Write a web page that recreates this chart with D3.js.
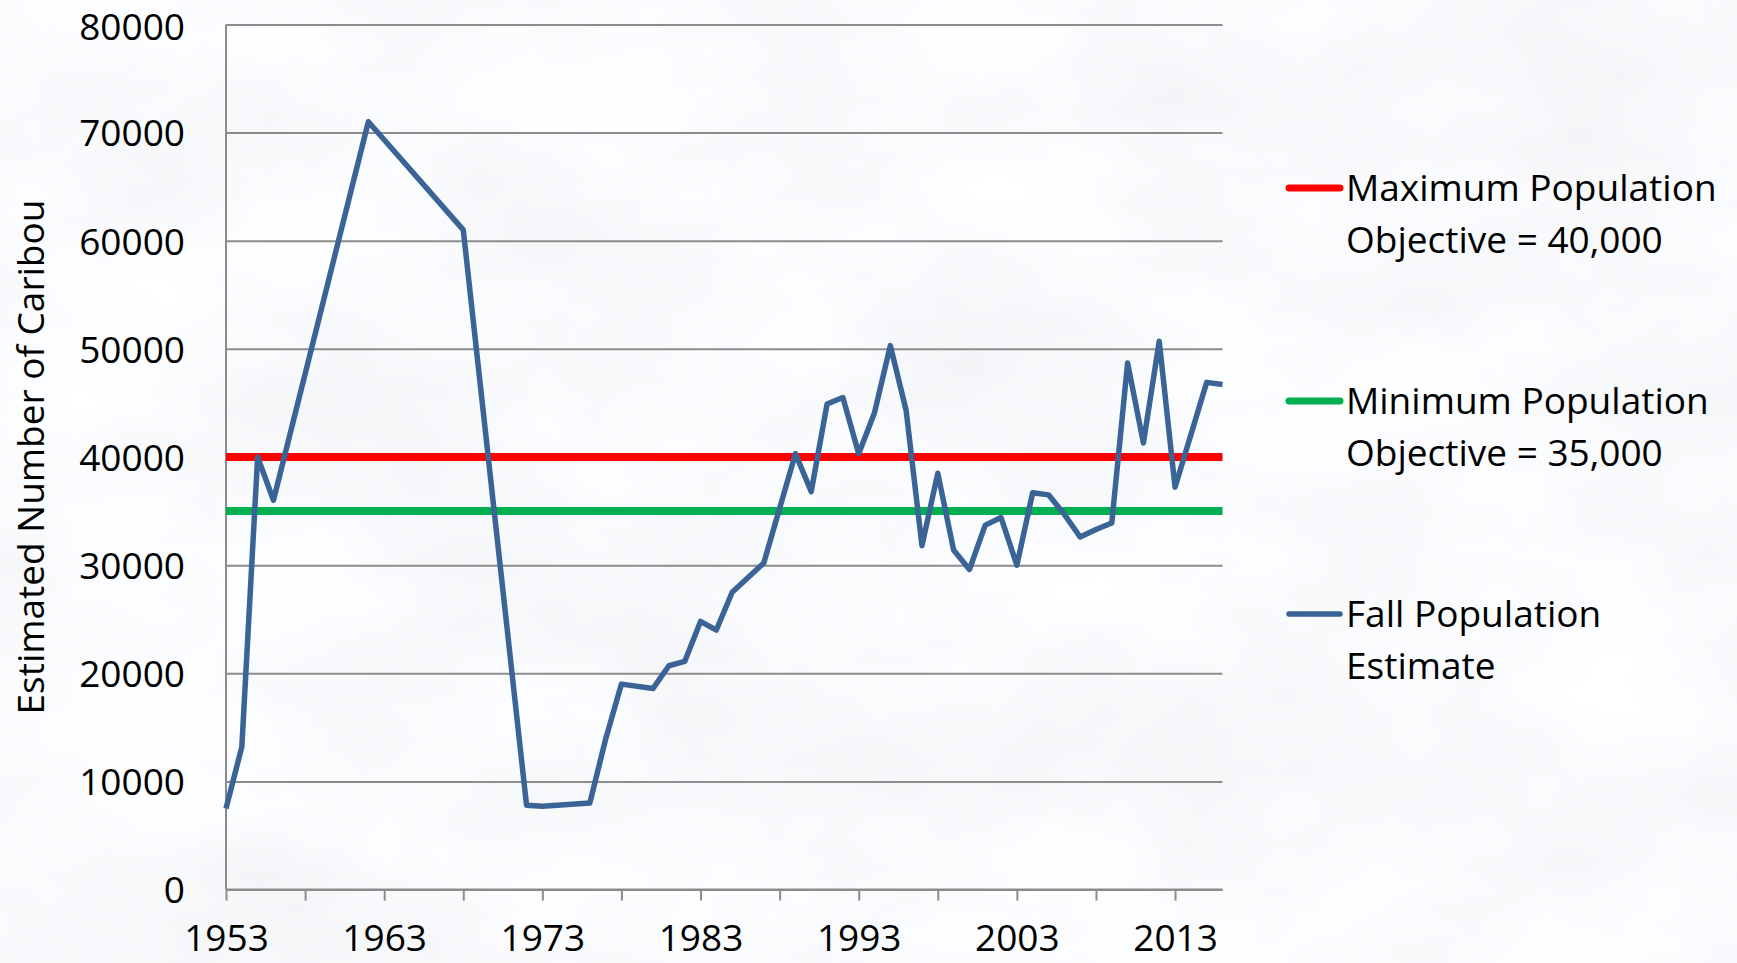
<!DOCTYPE html>
<html>
<head>
<meta charset="utf-8">
<script src="https://cdn.jsdelivr.net/npm/d3@7"></script>
<style>
  body { margin: 0; background: #eef1f4; }
  text { font-family: "Open Sans", sans-serif; fill: #000; }
</style>
</head>
<body>
<script>
// Chart data
var years = [1953, 1954, 1955, 1956, 1962, 1968, 1972, 1973, 1976, 1977, 1978, 1980, 1981, 1982,
  1983, 1984, 1985, 1987, 1989, 1990, 1991, 1992, 1993, 1994, 1995, 1996, 1997, 1998, 1999,
  2000, 2001, 2002, 2003, 2004, 2005, 2006, 2007, 2008, 2009, 2010, 2011, 2012, 2013, 2015, 2016];
var fallEstimate = [7500, 13200, 40000, 36000, 71000, 61000, 7800, 7700, 8000, 13900, 19000, 18600, 20700, 21100,
  24800, 24000, 27500, 30200, 40300, 36800, 44900, 45500, 40300, 44100, 50300, 44300, 31800, 38500, 31400,
  29600, 33700, 34400, 30000, 36700, 36500, 34700, 32600, 33300, 33900, 48700, 41300, 50700, 37200, 46900, 46700];
var maxObjective = 40000;
var minObjective = 35000;
var yTicks = [0, 10000, 20000, 30000, 40000, 50000, 60000, 70000, 80000];
var xTickYears = [1953, 1958, 1963, 1968, 1973, 1978, 1983, 1988, 1993, 1998, 2003, 2008, 2013];
var xLabelYears = [1953, 1963, 1973, 1983, 1993, 2003, 2013];
var legendLabels = [
  ["Maximum Population", "Objective = 40,000"],
  ["Minimum Population", "Objective = 35,000"],
  ["Fall Population", "Estimate"]
];
var legendColors = ["#ff0000", "#00b050", "#3b6496"];

// Set up svg
var svgWidth = 1737;
var svgHeight = 963;
var plot = { left: 226, right: 1222.5, top: 24.4, bottom: 889.6 };
var fontSize = "37px";

var svg = d3.select("body")
  .append("svg")
  .attr("width", svgWidth)
  .attr("height", svgHeight);

// cloudy backdrop
var defs = svg.append("defs");
var clouds = defs.append("filter")
  .attr("id", "clouds")
  .attr("x", 0).attr("y", 0).attr("width", "100%").attr("height", "100%");
clouds.append("feTurbulence")
  .attr("type", "fractalNoise")
  .attr("baseFrequency", "0.0035 0.006")
  .attr("numOctaves", 4)
  .attr("seed", 7);
clouds.append("feColorMatrix")
  .attr("type", "matrix")
  .attr("values", "0.16 0 0 0 0.865  0.16 0 0 0 0.88  0.16 0 0 0 0.9  0 0 0 0 1");

svg.append("rect")
  .attr("width", svgWidth)
  .attr("height", svgHeight)
  .attr("filter", "url(#clouds)");

// Scales
var x = d3.scaleLinear().domain([1953, 2016]).range([plot.left, plot.right]);
var y = d3.scaleLinear().domain([0, 80000]).range([plot.bottom, plot.top]);

// Gridlines + y labels
var yAxis = d3.axisLeft(y)
  .tickValues(yTicks)
  .tickSize(-(plot.right - plot.left))
  .tickFormat(d3.format("d"));

var yG = svg.append("g")
  .attr("transform", `translate(${plot.left},0)`)
  .call(yAxis);
yG.select(".domain").remove();
yG.selectAll(".tick line")
  .attr("stroke", "#8c8c8c")
  .attr("stroke-width", 2);
yG.selectAll(".tick text")
  .attr("x", -41)
  .attr("y", d => d === 80000 ? 2 : 0)   // keep the top label inside the page
  .attr("dy", "0.36em")
  .style("font-size", fontSize)
  .style("font-family", "Open Sans")
  .attr("fill", "#000");

// y axis line
svg.append("line")
  .attr("x1", plot.left).attr("x2", plot.left)
  .attr("y1", plot.top).attr("y2", plot.bottom)
  .attr("stroke", "#8c8c8c")
  .attr("stroke-width", 2);

// x axis
var xAxis = d3.axisBottom(x)
  .tickValues(xTickYears)
  .tickSize(11)
  .tickFormat(function(d) { return xLabelYears.indexOf(d) >= 0 ? d : ""; });

var xG = svg.append("g")
  .attr("transform", `translate(0,${plot.bottom})`)
  .call(xAxis);
xG.select(".domain")
  .attr("d", `M${plot.left},0H${plot.right}`)
  .attr("stroke", "#8c8c8c")
  .attr("stroke-width", 2);
xG.selectAll(".tick line")
  .attr("stroke", "#8c8c8c")
  .attr("stroke-width", 2);
xG.selectAll(".tick text")
  .attr("y", 61.5)
  .attr("dy", 0)
  .style("font-size", fontSize)
  .style("font-family", "Open Sans")
  .attr("fill", "#000");

// Objective lines
var objectives = [
  { value: maxObjective, color: legendColors[0] },
  { value: minObjective, color: legendColors[1] }
];
svg.selectAll(".objective")
  .data(objectives)
  .enter()
  .append("line")
  .attr("class", "objective")
  .attr("x1", x(1953))
  .attr("x2", x(2016))
  .attr("y1", d => y(d.value))
  .attr("y2", d => y(d.value))
  .attr("stroke", d => d.color)
  .attr("stroke-width", 8);

// Fall population line
var points = years.map(function(yr, i) { return { year: yr, value: fallEstimate[i] }; });
var line = d3.line()
  .x(d => x(d.year))
  .y(d => y(d.value));

svg.append("path")
  .datum(points)
  .attr("d", line)
  .attr("fill", "none")
  .attr("stroke", legendColors[2])
  .attr("stroke-width", 5.5)
  .attr("stroke-linejoin", "round");

// Y axis title
svg.append("text")
  .attr("transform", "translate(31,457) rotate(-90)")
  .attr("text-anchor", "middle")
  .attr("dy", "0.36em")
  .style("font-size", fontSize)
  .text("Estimated Number of Caribou");

// Legend
var legendY = [188, 401, 614];
var legend = svg.selectAll(".legend")
  .data(legendLabels)
  .enter()
  .append("g")
  .attr("class", "legend")
  .attr("transform", (d, i) => `translate(0,${legendY[i]})`);

legend.append("line")
  .attr("x1", 1289).attr("x2", 1340)
  .attr("y1", 0).attr("y2", 0)
  .attr("stroke", (d, i) => legendColors[i])
  .attr("stroke-width", (d, i) => i < 2 ? 7 : 5.5)
  .attr("stroke-linecap", "round");

legend.append("text")
  .attr("x", 1346)
  .attr("y", 0)
  .style("font-size", fontSize)
  .selectAll("tspan")
  .data(d => d)
  .enter()
  .append("tspan")
  .attr("x", 1346)
  .attr("y", (d, i) => i * 52)
  .attr("dy", "0.36em")
  .text(d => d);
</script>
</body>
</html>
